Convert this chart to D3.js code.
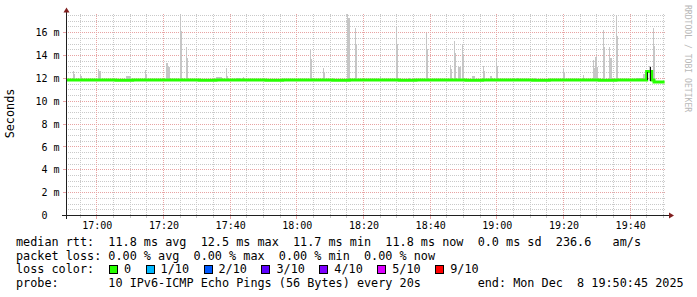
<!DOCTYPE html>
<html><head><meta charset="utf-8">
<script src="https://cdn.jsdelivr.net/npm/d3@7"></script>
<style>
html,body{margin:0;padding:0;background:#fff;}
svg{display:block;}
text{font-family:'DejaVu Sans Mono',monospace;white-space:pre;}
</style></head><body>
<svg id="chart" width="697" height="297"></svg>
<script>
// ---------- data ----------
const startTime = "16:50:45";
const endTime = "19:50:45";
const yMax = 17.63;
const yTickValues = [0, 2, 4, 6, 8, 10, 12, 14, 16];
const yTickLabels = ["0  ", "2 m", "4 m", "6 m", "8 m", "10 m", "12 m", "14 m", "16 m"];
const xTickLabels = ["17:00", "17:20", "17:40", "18:00", "18:20", "18:40", "19:00", "19:20", "19:40"];

const medianTimes = ["16:50:45","16:55:45","17:00:45","17:05:45","17:10:45","17:15:45","17:20:45","17:25:45",
  "17:30:45","17:35:45","17:40:45","17:45:45","17:50:45","17:55:45","18:00:45","18:05:45","18:10:45",
  "18:15:45","18:20:45","18:25:45","18:30:45","18:35:45","18:40:45","18:45:45","18:50:45","18:55:45",
  "19:00:45","19:05:45","19:10:45","19:15:45","19:20:45","19:25:45","19:30:45","19:35:45","19:40:45",
  "19:44:57","19:46:27","19:47:09","19:50:20"];
const medianValues = [11.86,11.85,11.86,11.84,11.85,11.86,11.85,11.86,
  11.84,11.85,11.86,11.85,11.84,11.85,11.86,11.85,11.84,
  11.85,11.86,11.85,11.84,11.85,11.86,11.85,11.84,11.85,
  11.86,11.85,11.84,11.85,11.86,11.85,11.84,11.85,11.85,
  12.60,11.85,11.68,11.68];

const smokeStart = ["16:52:45","16:53:09","16:54:57","16:55:15","17:00:16","17:00:39","17:08:45","17:14:27","17:14:50",
  "17:20:50","17:21:16","17:24:57","17:25:10","17:26:45","17:27:03","17:35:40","17:38:45","17:39:03","17:42:03",
  "17:43:46","18:03:57","18:04:15","18:07:46","18:08:04","18:14:58","18:15:21","18:17:27","18:17:45","18:24:52",
  "18:29:45","18:29:58","18:33:39","18:38:45","18:39:03","18:45:52","18:46:10","18:47:04","18:47:22","18:48:21",
  "18:49:33","18:49:51","18:52:33","18:55:46","18:56:09","18:57:57","18:59:40","19:00:03","19:05:45","19:11:22",
  "19:19:46","19:20:09","19:25:46","19:28:46","19:29:09","19:29:32","19:29:58","19:31:46","19:32:04","19:33:44",
  "19:34:02","19:35:45","19:36:03","19:42:03","19:43:51","19:45:40","19:46:46","19:47:04"];
const smokeEnd = ["16:53:09","16:53:27","16:55:15","16:55:33","17:00:39","17:01:10","17:10:10","17:14:50","17:15:03",
  "17:21:16","17:21:57","17:25:10","17:25:28","17:27:03","17:27:26","17:37:38","17:39:03","17:39:21","17:43:15",
  "17:44:09","18:04:15","18:04:38","18:08:04","18:08:22","18:15:21","18:15:57","18:17:45","18:18:03","18:25:20",
  "18:29:58","18:30:16","18:34:15","18:39:03","18:39:26","18:46:10","18:46:33","18:47:22","18:47:45","18:49:10",
  "18:49:51","18:50:14","18:53:22","18:56:09","18:56:27","18:58:33","19:00:03","19:00:21","19:06:21","19:12:08",
  "19:20:09","19:20:22","19:26:09","19:29:09","19:29:32","19:29:58","19:30:21","19:32:04","19:32:27","19:34:02",
  "19:34:33","19:36:03","19:36:26","19:43:33","19:44:27","19:46:15","19:47:04","19:47:27"];
const smokeTop = [12.60,12.35,12.40,12.20,12.85,12.65,12.20,12.70,12.30,
  13.30,12.95,17.63,16.10,14.70,13.75,12.15,12.90,12.20,12.05,
  12.15,14.45,13.65,12.87,12.50,17.60,17.30,16.40,14.90,12.20,
  16.60,15.00,12.05,16.00,14.60,13.20,12.80,15.30,14.20,13.00,
  14.90,14.00,12.20,13.10,12.60,12.20,13.70,13.05,12.05,12.05,
  12.90,12.45,12.30,13.60,12.90,13.90,13.00,16.20,14.75,14.70,
  13.80,17.55,15.70,12.05,12.35,13.05,16.40,14.80];

const denseStart = ["19:44:58", "19:45:57"];
const denseEnd = ["19:45:21", "19:46:15"];
const denseLow = [11.83, 11.80];
const denseHigh = [12.55, 13.00];

const legendLine1 = "median rtt:  11.8 ms avg  12.5 ms max  11.7 ms min  11.8 ms now  0.0 ms sd  236.6   am/s";
const legendLine2 = "packet loss: 0.00 % avg  0.00 % max  0.00 % min  0.00 % now";
const legendLine3 = "loss color:";
const legendLine4 = "probe:       10 IPv6-ICMP Echo Pings (56 Bytes) every 20s        end: Mon Dec  8 19:50:45 2025";
const lossLabels = ["0", "1/10", "2/10", "3/10", "4/10", "5/10", "9/10"];
const lossColors = ["#26ff00", "#00b8ff", "#0059ff", "#5e00ff", "#7e00ff", "#dd00ff", "#ff0000"];
const yAxisTitle = "Seconds";
const watermark = "RRDTOOL / TOBI OETIKER";

// ---------- drawing ----------
const parseT = d3.timeParse("%H:%M:%S");
const parseHM = d3.timeParse("%H:%M");
const svg = d3.select("#chart");
svg.append("rect").attr("width", 697).attr("height", 297).attr("fill", "#fff");

const x = d3.scaleTime().domain([parseT(startTime), parseT(endTime)]).range([66, 666]);
const y = d3.scaleLinear().domain([0, yMax]).range([215.5, 14]);
const px = v => Math.floor(v) + 0.5;

const minorCol = "#c9c9c9", majorCol = "#e8a3a3";
const grid = svg.append("g");
// minor horizontal
d3.range(0, yMax, 0.5).filter(v => v % 2 !== 0 && v > 0).forEach(v => {
  grid.append("line").attr("x1", 66).attr("x2", 666).attr("y1", px(y(v))).attr("y2", px(y(v)))
    .attr("stroke", minorCol).attr("stroke-dasharray", "1,1");
});
// minor vertical
const minorTimes = d3.timeMinute.every(5).range(x.domain()[0], x.domain()[1]);
const majorTimes = xTickLabels.map(parseHM);
minorTimes.filter(t => t.getMinutes() % 20 !== 0).forEach(t => {
  grid.append("line").attr("x1", px(x(t))).attr("x2", px(x(t))).attr("y1", 14).attr("y2", 215)
    .attr("stroke", minorCol).attr("stroke-dasharray", "1,1");
  grid.append("line").attr("x1", px(x(t))).attr("x2", px(x(t))).attr("y1", 214).attr("y2", 218)
    .attr("stroke", minorCol);
});
// major
yTickValues.filter(v => v > 0).forEach(v => {
  grid.append("line").attr("x1", 66).attr("x2", 666).attr("y1", px(y(v))).attr("y2", px(y(v)))
    .attr("stroke", majorCol).attr("stroke-dasharray", "1,1");
  grid.append("line").attr("x1", 63).attr("x2", 66).attr("y1", px(y(v))).attr("y2", px(y(v)))
    .attr("stroke", majorCol);
});
majorTimes.forEach(t => {
  grid.append("line").attr("x1", px(x(t))).attr("x2", px(x(t))).attr("y1", 14).attr("y2", 215)
    .attr("stroke", majorCol).attr("stroke-dasharray", "1,1");
  grid.append("line").attr("x1", px(x(t))).attr("x2", px(x(t))).attr("y1", 214).attr("y2", 219)
    .attr("stroke", majorCol);
});

// smoke
const smokeG = svg.append("g").attr("shape-rendering", "crispEdges");
smokeStart.forEach((s, i) => {
  const x0 = Math.round(x(parseT(s))), x1 = Math.round(x(parseT(smokeEnd[i])));
  const top = Math.min(smokeTop[i], yMax);
  smokeG.append("rect").attr("x", x0).attr("width", Math.max(1, x1 - x0))
    .attr("y", Math.round(y(top))).attr("height", Math.round(y(11.75)) - Math.round(y(top)))
    .attr("fill", "#c6c6c6");
});

// median line
const medData = medianTimes.map((t, i) => ({t: parseT(t), v: medianValues[i]}));
svg.append("path").datum(medData)
  .attr("d", d3.line().x(d => x(d.t)).y(d => y(d.v)).curve(d3.curveStepAfter))
  .attr("fill", "none").attr("stroke", lossColors[0]).attr("stroke-width", 3);

// dense smoke
denseStart.forEach((s, i) => {
  const x0 = Math.round(x(parseT(s))), x1 = Math.round(x(parseT(denseEnd[i])));
  svg.append("rect").attr("x", x0).attr("width", Math.max(1, x1 - x0))
    .attr("y", Math.round(y(denseHigh[i]))).attr("height", Math.round(y(denseLow[i])) - Math.round(y(denseHigh[i])))
    .attr("fill", "#111").attr("shape-rendering", "crispEdges");
});

// axes lines
const axisCol = "#1f1f1f", arrowCol = "#801f1f";
svg.append("line").attr("x1", 62).attr("x2", 669).attr("y1", 215.5).attr("y2", 215.5).attr("stroke", axisCol);
svg.append("line").attr("x1", 66.5).attr("x2", 66.5).attr("y1", 219).attr("y2", 12).attr("stroke", axisCol);
svg.append("path").attr("d", "M669,212.5 L674,215.5 L669,218.5 Z").attr("fill", arrowCol);
svg.append("path").attr("d", "M63.5,12.5 L66.5,7.5 L69.5,12.5 Z").attr("fill", arrowCol);

// y axis labels
const yAxisG = svg.append("g").attr("transform", "translate(66.5,0)")
  .call(d3.axisLeft(y).tickValues(yTickValues).tickFormat((d, i) => yTickLabels[i]).tickSize(0).tickPadding(7));
yAxisG.select(".domain").remove();
yAxisG.attr("font-family", "'DejaVu Sans Mono', monospace").attr("font-size", 10);
yAxisG.selectAll("text").attr("fill", "#000").style("white-space", "pre");

// x axis labels
const xAxisG = svg.append("g").attr("transform", "translate(0,215.5)")
  .call(d3.axisBottom(x).tickValues(majorTimes).tickFormat((d, i) => xTickLabels[i]).tickSize(0).tickPadding(6));
xAxisG.select(".domain").remove();
xAxisG.attr("font-family", "'DejaVu Sans Mono', monospace").attr("font-size", 10);
xAxisG.selectAll("text").attr("fill", "#000");

// y title
svg.append("text").attr("transform", "translate(14,113.5) rotate(-90)").attr("text-anchor", "middle")
  .attr("font-size", 11.8).attr("fill", "#000").text(yAxisTitle);

// watermark
svg.append("text").attr("transform", "translate(685,5) rotate(90)").attr("font-size", 8.1)
  .attr("fill", "#b8b8b8").text(watermark);

// legend
const lg = svg.append("g").attr("font-size", 11.8).attr("fill", "#000");
lg.append("text").attr("x", 16).attr("y", 246).text(legendLine1);
lg.append("text").attr("x", 16).attr("y", 259.7).text(legendLine2);
lg.append("text").attr("x", 16).attr("y", 273.3).text(legendLine3);
lg.append("text").attr("x", 16).attr("y", 287).text(legendLine4);
let bx = 109;
const cw = 11.8 * 0.602;
lossLabels.forEach((lab, i) => {
  lg.append("rect").attr("x", Math.round(bx) + 0.5).attr("y", 265.5).attr("width", 8).attr("height", 8)
    .attr("fill", lossColors[i]).attr("stroke", "#000").attr("stroke-width", 1);
  lg.append("text").attr("x", bx + 15).attr("y", 273.3).text(lab);
  bx = bx + 15 + lab.length * cw + 14.5;
});
</script>
</body></html>
